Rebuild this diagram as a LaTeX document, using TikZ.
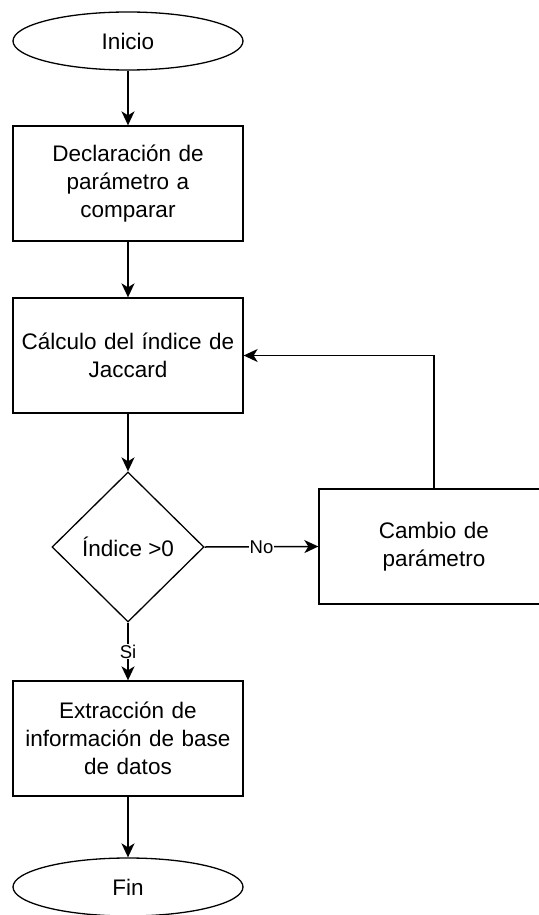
\documentclass[tikz,border=0pt]{standalone}
\usepackage{fontspec}
\setmainfont{Liberation Sans}
\usetikzlibrary{shapes.geometric,arrows.meta}
\begin{document}
\begin{tikzpicture}[x=1pt,y=-1pt,
  every node/.style={font=\fontsize{22.5}{28}\selectfont},
  proc/.style={draw, rectangle, minimum width=230pt, minimum height=115pt, text width=228pt, align=center, inner sep=0pt, line width=1.3pt},
  term/.style={draw, ellipse, minimum width=230pt, minimum height=58pt, inner sep=0pt, line width=1.3pt},
  dec/.style={draw, diamond, minimum width=152pt, minimum height=150pt, inner sep=0pt, line width=1.3pt},
  arr/.style={line width=1.5pt, -{Stealth[length=14pt,width=13pt,inset=4pt]}},
  lbl/.style={font=\fontsize{18.5}{20}\selectfont, fill=white, inner sep=1pt}]
\useasboundingbox (0,0) rectangle (538,915);
\node[term] (ini) at (128,41) {Inicio};
\node[proc] (b1) at (128,183.5) {Declaración de\\parámetro a\\comparar};
\node[proc] (b2) at (128,355.5) {Cálculo del índice de\\Jaccard};
\node[dec] (d) at (128,547) {Índice >0};
\node[proc] (b3) at (434,546.5) {Cambio de\\parámetro};
\node[proc] (b4) at (128,738.5) {Extracción de\\información de base\\de datos};
\node[term] (fin) at (128,887) {Fin};
\draw[arr] (ini) -- (b1);
\draw[arr] (b1) -- (b2);
\draw[arr] (b2) -- (d);
\draw[arr] (d.east) -- node[lbl] {No} (b3.west);
\draw[arr] (b3.north) |- (b2.east);
\draw[arr] (d.south) -- node[lbl] {Si} (b4.north);
\draw[arr] (b4) -- (fin);
\end{tikzpicture}
\end{document}
